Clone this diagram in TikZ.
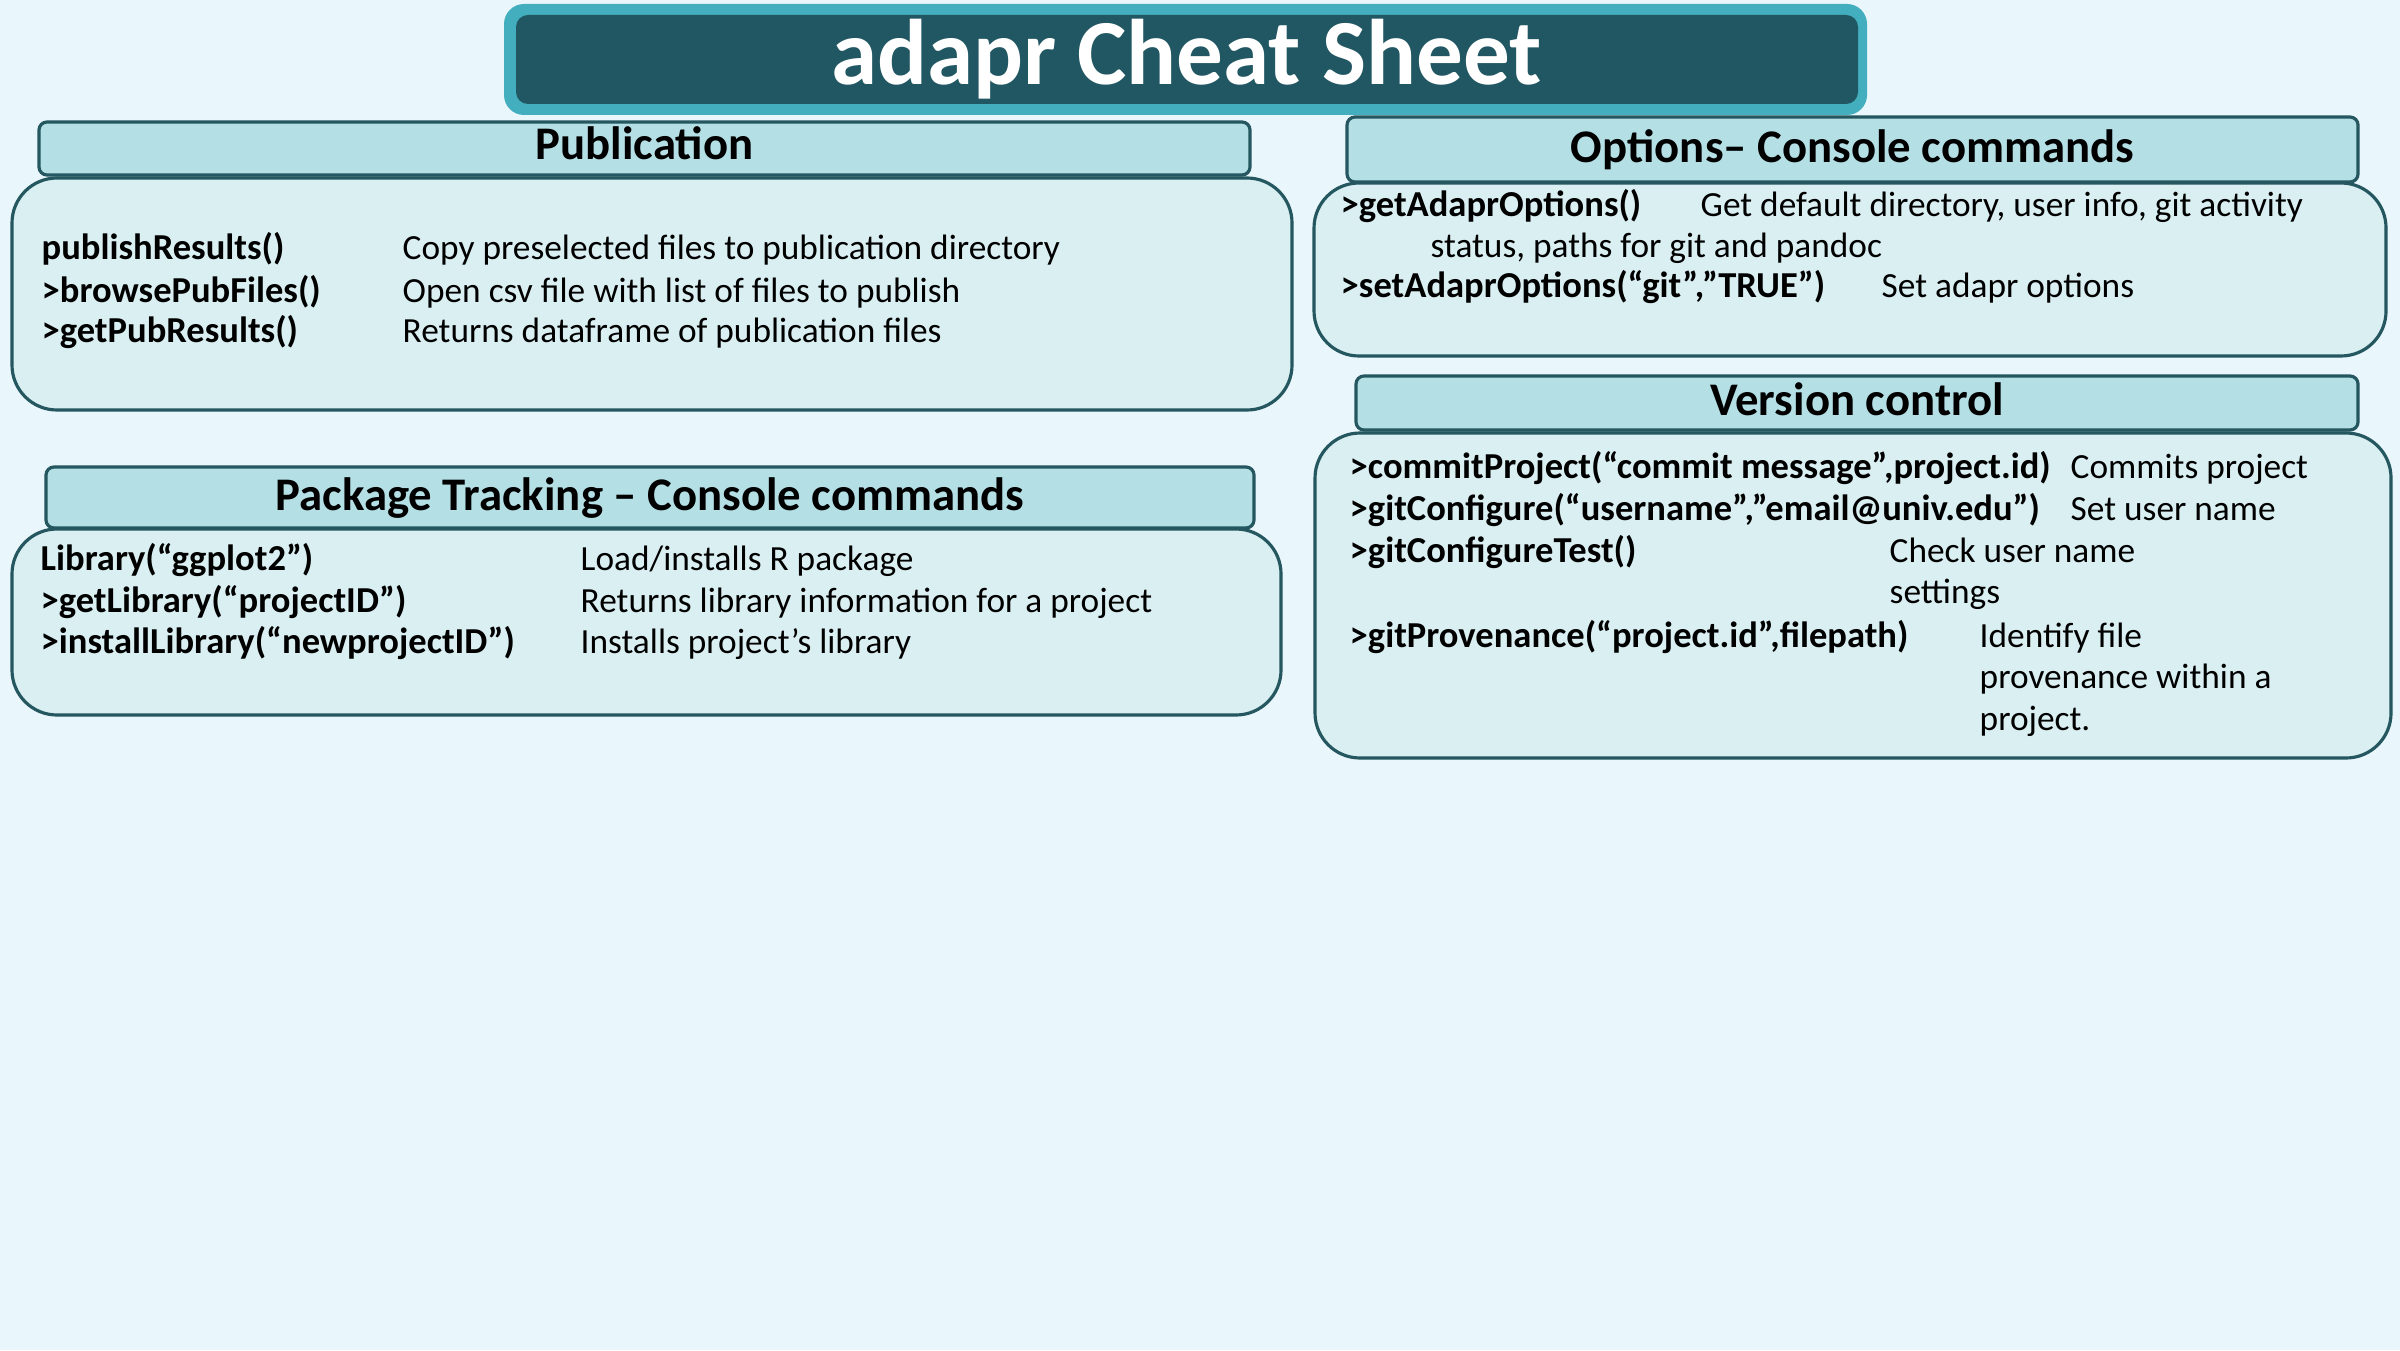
\documentclass[tikz,border=0pt]{standalone}
\usepackage{fontspec}
\setmainfont{Carlito}
\usepackage{tikz}
\usetikzlibrary{positioning}

\definecolor{bgcol}{HTML}{E9F6FB}
\definecolor{titleedge}{HTML}{42AEBE}
\definecolor{titledark}{HTML}{215762}
\definecolor{headfill}{HTML}{B3DFE5}
\definecolor{bodyfill}{HTML}{DAEFF2}
\definecolor{edgecol}{HTML}{24575F}

\begin{document}
\begin{tikzpicture}[
  header/.style={rectangle, draw=edgecol, line width=0.9pt, fill=headfill, rounded corners=0.08cm, inner sep=0pt},
  panel/.style={rectangle, draw=edgecol, line width=0.9pt, fill=bodyfill, rounded corners=0.45cm, inner sep=0pt},
  headtext/.style={font=\fontsize{13.3}{15}\selectfont\bfseries, anchor=base, inner sep=0pt},
  cmd/.style={font=\fontsize{10.4}{12}\selectfont\bfseries, anchor=base west, inner sep=0pt},
  desc/.style={font=\fontsize{10.05}{12}\selectfont, anchor=base west, inner sep=0pt}
]

\useasboundingbox (0,0) rectangle (24,13.5);
\fill[bgcol] (0,0) rectangle (24,13.5);

% title
\node[rectangle, fill=titleedge, rounded corners=0.2cm, minimum width=13.63cm, minimum height=1.11cm] (titleouter) at (11.855,12.905) {};
\node[rectangle, fill=titledark, rounded corners=0.12cm, minimum width=13.42cm, minimum height=0.89cm] (titlebox) at (11.87,12.905) {};
\node[font=\fontsize{26.5}{30}\selectfont\bfseries, text=white, anchor=base, inner sep=0pt] (title) at (11.865,12.65) {adapr Cheat Sheet};

% publication
\node[header, minimum width=12.11cm, minimum height=0.53cm] (pubhead) at (6.445,12.015) {};
\node[headtext] (pubtitle) at (6.445,11.90) {Publication};
\node[panel, minimum width=12.80cm, minimum height=2.32cm] (pubbody) at (6.52,10.56) {};
\node[cmd] (pubcmda) at (0.41,10.90) {publishResults()};
\node[cmd] (pubcmdb) at (0.41,10.47) {>browsePubFiles()};
\node[cmd] (pubcmdc) at (0.41,10.07) {>getPubResults()};
\node[desc] (pubdesca) at (4.02,10.90) {Copy preselected files to publication directory};
\node[desc] (pubdescb) at (4.02,10.47) {Open csv file with list of files to publish};
\node[desc] (pubdescc) at (4.02,10.07) {Returns dataframe of publication files};

% package tracking
\node[header, minimum width=12.08cm, minimum height=0.61cm] (pkghead) at (6.50,8.525) {};
\node[headtext] (pkgtitle) at (6.50,8.40) {Package Tracking – Console commands};
\node[panel, minimum width=12.69cm, minimum height=1.86cm] (pkgbody) at (6.465,7.28) {};
\node[cmd] (pkgcmda) at (0.40,7.80) {Library(“ggplot2”)};
\node[cmd] (pkgcmdb) at (0.40,7.38) {>getLibrary(“projectID”)};
\node[cmd] (pkgcmdc) at (0.40,6.97) {>installLibrary(“newprojectID”)};
\node[desc] (pkgdesca) at (5.80,7.80) {Load/installs R package};
\node[desc] (pkgdescb) at (5.80,7.38) {Returns library information for a project};
\node[desc] (pkgdescc) at (5.80,6.97) {Installs project’s library};

% options
\node[header, minimum width=10.11cm, minimum height=0.65cm] (opthead) at (18.525,12.005) {};
\node[headtext] (opttitle) at (18.525,11.87) {Options– Console commands};
\node[panel, minimum width=10.72cm, minimum height=1.73cm] (optbody) at (18.50,10.805) {};
\node[cmd] (optcmda) at (13.40,11.33) {>getAdaprOptions()};
\node[desc] (optdesca) at (17.00,11.33) {Get default directory, user info, git activity};
\node[desc] (optdescb) at (14.30,10.92) {status, paths for git and pandoc};
\node[cmd] (optcmdc) at (13.40,10.52) {>setAdaprOptions(“git”,”TRUE”)};
\node[desc] (optdescc) at (18.81,10.52) {Set adapr options};

% version control
\node[header, minimum width=10.02cm, minimum height=0.54cm] (vcshead) at (18.57,9.47) {};
\node[headtext] (vcstitle) at (18.57,9.35) {Version control};
\node[panel, minimum width=10.76cm, minimum height=3.25cm] (vcsbody) at (18.53,7.545) {};
\node[cmd] (vcscmda) at (13.49,8.72) {>commitProject(“commit message”,project.id)};
\node[cmd] (vcscmdb) at (13.49,8.30) {>gitConfigure(“username”,”email@univ.edu”)};
\node[cmd] (vcscmdc) at (13.49,7.88) {>gitConfigureTest()};
\node[cmd] (vcscmdd) at (13.49,7.03) {>gitProvenance(“project.id”,filepath)};
\node[desc] (vcsdesca) at (20.70,8.72) {Commits project};
\node[desc] (vcsdescb) at (20.70,8.30) {Set user name};
\node[desc] (vcsdescc) at (18.89,7.88) {Check user name};
\node[desc] (vcsdescd) at (18.89,7.47) {settings};
\node[desc] (vcsdesce) at (19.79,7.03) {Identify file};
\node[desc] (vcsdescf) at (19.79,6.62) {provenance within a};
\node[desc] (vcsdescg) at (19.79,6.20) {project.};

\end{tikzpicture}
\end{document}
